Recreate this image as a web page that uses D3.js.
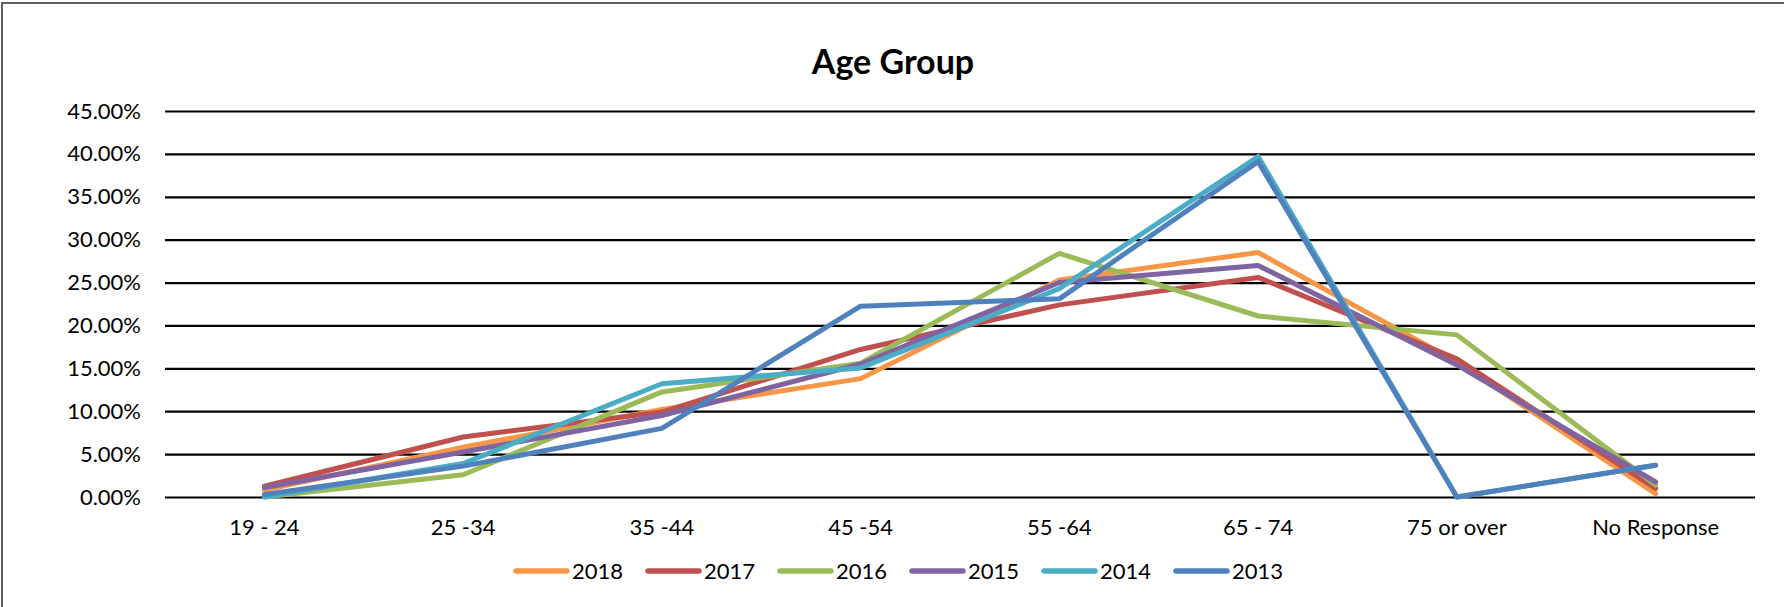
<!DOCTYPE html>
<html>
  <head>
    <title>Age Group</title>
    <script src="https://cdn.jsdelivr.net/npm/d3@7/dist/d3.min.js" charset="utf-8"></script>
<style>
body { margin: 0; background: #ffffff; }
text { font-family: Lato, "Open Sans", sans-serif; fill: #000000; }
.grid line { stroke: #000000; stroke-width: 2.2; }
.series { fill: none; stroke-width: 5; stroke-linejoin: round; stroke-linecap: round; }
</style>
  </head>
  <body>
    <svg></svg>
    <script>
      var width = 1784;
      var height = 607;

      var categories = ["19 - 24", "25 -34", "35 -44", "45 -54", "55 -64", "65 - 74", "75 or over", "No Response"];
      var years = ["2018", "2017", "2016", "2015", "2014", "2013"];
      var colors = ["#f79646", "#c0504d", "#9bbb59", "#8064a2", "#4bacc6", "#4f81bd"];
      var yTicks = [0, 0.05, 0.10, 0.15, 0.20, 0.25, 0.30, 0.35, 0.40, 0.45];

      // percent values, one array per year
      var v2018 = [0.8, 5.8, 10.2, 13.8, 25.3, 28.5, 15.75, 0.4];
      var v2017 = [1.25, 7.0, 9.9, 17.2, 22.4, 25.6, 16.1, 1.0];
      var v2016 = [0.0, 2.6, 12.25, 15.6, 28.4, 21.1, 18.9, 1.4];
      var v2015 = [1.1, 5.25, 9.5, 15.5, 25.0, 27.0, 15.4, 1.75];
      var v2014 = [0.0, 3.9, 13.2, 15.05, 24.3, 39.7, 0.0, 3.7];
      var v2013 = [0.3, 3.6, 8.0, 22.25, 23.1, 39.1, 0.0, 3.7];
      var values = [v2018, v2017, v2016, v2015, v2014, v2013];

      var plotLeft = 165, plotRight = 1755, plotTop = 111, plotBottom = 497;

      var svg = d3.select("svg").attr("width", width).attr("height", height);

      // chart border (right and bottom edges fall outside the picture)
      svg.append("rect")
        .attr("x", 2).attr("y", 3)
        .attr("width", width + 10).attr("height", height + 10)
        .attr("fill", "none").attr("stroke", "#3a3a3a").attr("stroke-width", 1.6);

      var x = d3.scaleBand().domain(categories).range([plotLeft, plotRight]);
      var y = d3.scaleLinear().domain([0, 0.45]).range([plotBottom, plotTop]);

      svg.append("text")
        .attr("x", 893).attr("y", 74)
        .attr("text-anchor", "middle")
        .style("font-size", "34px").style("font-weight", "bold")
        .text("Age Group");

      var yAxis = svg.append("g")
        .attr("class", "grid")
        .attr("transform", "translate(" + plotLeft + ",0)")
        .call(d3.axisLeft(y).tickValues(yTicks).tickFormat(d3.format(".2%"))
          .tickSize(-(plotRight - plotLeft)).tickPadding(24));
      yAxis.select(".domain").remove();
      yAxis.selectAll("text").style("font-size", "22px");

      var xAxis = svg.append("g")
        .attr("transform", "translate(0," + plotBottom + ")")
        .call(d3.axisBottom(x).tickSize(0).tickPadding(22));
      xAxis.select(".domain").remove();
      xAxis.selectAll("text").style("font-size", "22px");

      var line = d3.line()
        .x(function(d, i){ return x(categories[i]) + x.bandwidth() / 2; })
        .y(function(d){ return y(d / 100); });

      svg.selectAll("path.series").data(values)
        .enter()
        .append("path")
          .attr("class", "series")
          .attr("stroke", function(d, i){ return colors[i]; })
          .attr("d", line);

      var legend = svg.selectAll("g.legend").data(years)
        .enter()
        .append("g")
          .attr("class", "legend")
          .attr("transform", function(d, i){ return "translate(" + (514 + i * 132) + ",571)"; });
      legend.append("line")
        .attr("x1", 2).attr("x2", 53)
        .attr("stroke", function(d, i){ return colors[i]; })
        .attr("stroke-width", 5.5).attr("stroke-linecap", "round");
      legend.append("text")
        .attr("x", 58).attr("dy", "0.36em")
        .style("font-size", "22px")
        .text(function(d){ return d; });
    </script>
  </body>
</html>
